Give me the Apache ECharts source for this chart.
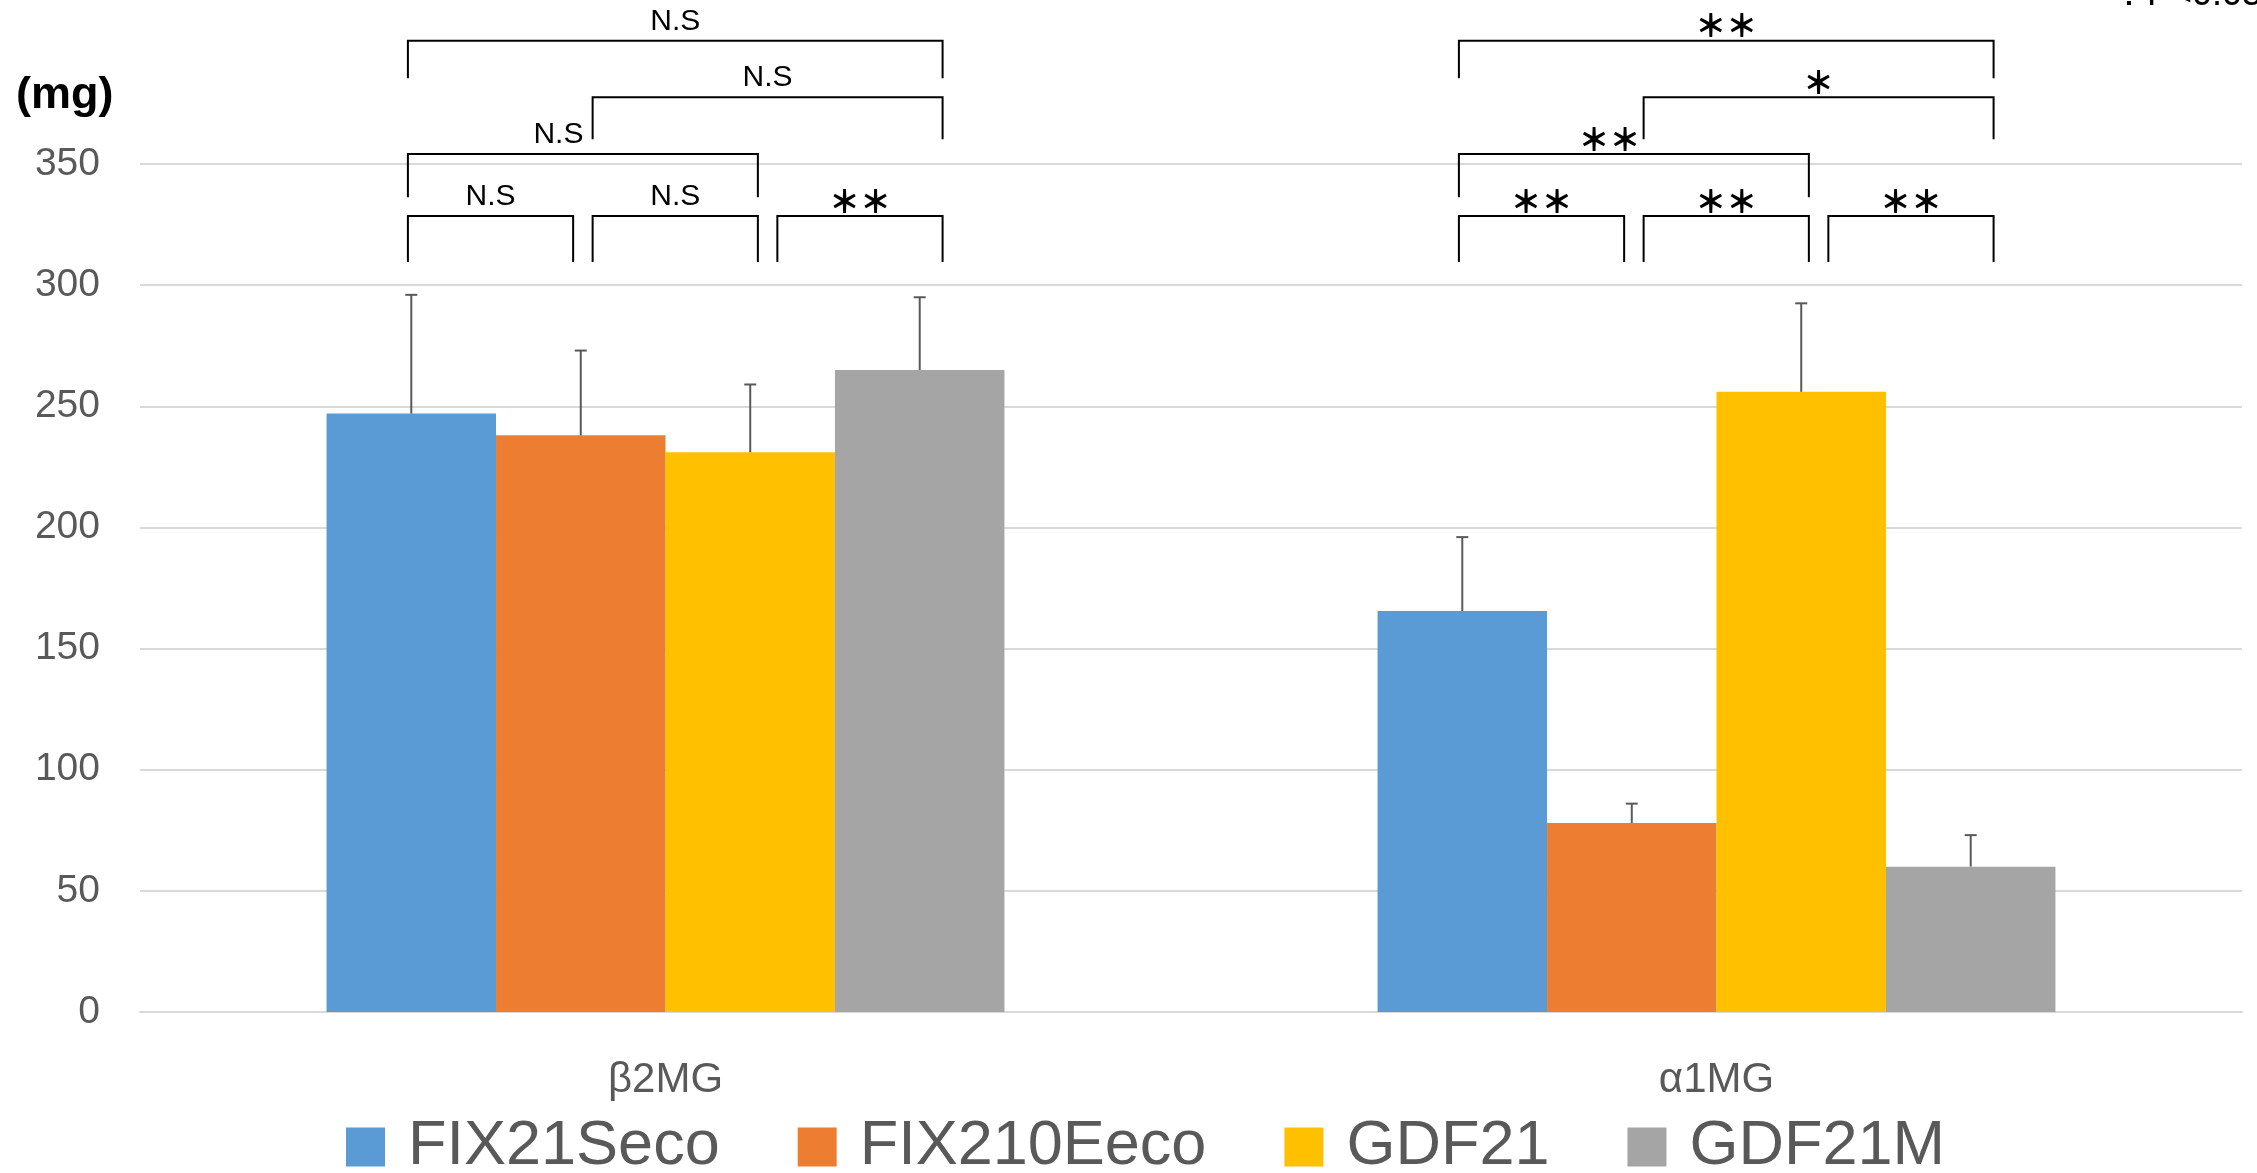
<!DOCTYPE html>
<html>
<head>
<meta charset="utf-8">
<script src="https://cdn.jsdelivr.net/npm/echarts@6/dist/echarts.min.js"></script>
<style>
html,body{margin:0;padding:0;background:#fff;}
#chart{width:2257px;height:1173px;}
</style>
</head>
<body>
<div id="chart"></div>
<script>
// ---- data ----
const categories = ['β2MG', 'α1MG'];
const seriesNames = ['FIX21Seco', 'FIX210Eeco', 'GDF21', 'GDF21M'];
const fix21seco = [247, 165.5];
const fix210eeco = [238, 78];
const gdf21 = [231, 256];
const gdf21m = [265, 60];
const errFix21seco = [49, 30.5];
const errFix210eeco = [35, 8];
const errGdf21 = [28, 36.5];
const errGdf21m = [30, 13];
const yMin = 0, yMax = 350, yStep = 50;
// significance brackets: [category, fromBar, toBar, tier, label]
const brackets = [
  [0, 0, 1, 0, 'N.S'], [0, 1, 2, 0, 'N.S'], [0, 2, 3, 0, '＊＊'],
  [0, 0, 2, 1, 'N.S'], [0, 1, 3, 2, 'N.S'], [0, 0, 3, 3, 'N.S'],
  [1, 0, 1, 0, '＊＊'], [1, 1, 2, 0, '＊＊'], [1, 2, 3, 0, '＊＊'],
  [1, 0, 2, 1, '＊＊'], [1, 1, 3, 2, '＊'], [1, 0, 3, 3, '＊＊']
];
const tierLine = [328.5, 354.1, 377.6, 400.9];
const tierLeg = [309.6, 336.3, 360.2, 385.4];

const means = [fix21seco, fix210eeco, gdf21, gdf21m];
const errs = [errFix21seco, errFix210eeco, errGdf21, errGdf21m];
const colors = ['#5B9BD5', '#ED7D31', '#FFC000', '#A5A5A5'];
const CAT_GAP = 0.355;

const errData = [];
means.forEach((arr, s) => arr.forEach((v, c) => errData.push([c, v + errs[s][c], s, v])));

function barW(api) {
  return api.size([1, 0])[0] * (1 - CAT_GAP) / 4;
}

function renderErr(params, api) {
  const c = api.value(0), top = api.value(1), s = api.value(2), base = api.value(3);
  const bw = barW(api);
  const p0 = api.coord([c, base]);
  const p1 = api.coord([c, top]);
  const x = p0[0] + (s - 1.5) * bw;
  const st = {stroke: '#595959', lineWidth: 2};
  return {
    type: 'group',
    children: [
      {type: 'line', shape: {x1: x, y1: p0[1], x2: x, y2: p1[1]}, style: st},
      {type: 'line', shape: {x1: x - 6, y1: p1[1], x2: x + 6, y2: p1[1]}, style: st}
    ]
  };
}

function renderBracket(params, api) {
  const b = brackets[params.dataIndex];
  const c = api.coord([b[0], 0]);
  const bw = barW(api);
  const xl = c[0] + (-1.52 + 1.09 * b[1]) * bw;
  const xr = c[0] + (-1.52 + 1.09 * b[2] - 0.115) * bw;
  const yLine = api.coord([b[0], tierLine[b[3]]])[1];
  const yLeg = api.coord([b[0], tierLeg[b[3]]])[1];
  const frac = b[3] === 1 ? 0.43 : 0.5;
  const isStar = b[4].indexOf('＊') >= 0;
  return {
    type: 'group',
    children: [
      {type: 'polyline', shape: {points: [[xl, yLeg], [xl, yLine], [xr, yLine], [xr, yLeg]]},
        style: {stroke: '#000', lineWidth: 2, fill: null}},
      {type: 'text', style: {
        text: b[4], x: xl + (xr - xl) * frac, y: yLine - (isStar ? 15 : 19),
        align: 'center', verticalAlign: 'middle',
        fontFamily: isStar ? 'Noto Sans CJK JP' : 'Liberation Sans',
        fontSize: isStar ? 31 : 30, fontWeight: isStar ? 900 : 'normal', fill: '#000'
      }}
    ]
  };
}

const chart = echarts.init(document.getElementById('chart'));
const series = seriesNames.map((n, i) => ({
  name: n, type: 'bar', data: means[i], barGap: '0%', barCategoryGap: (CAT_GAP * 100) + '%',
  itemStyle: {color: colors[i]}, z: 2
}));
series.push({
  type: 'custom', renderItem: renderErr, data: errData, z: 3, silent: true,
  encode: {x: 0, y: 1}
});
series.push({
  type: 'custom', renderItem: renderBracket, data: brackets.map(b => [b[0], 0]), z: 4, silent: true,
  clip: false, encode: {x: 0, y: 1}
});

chart.setOption({
  animation: false,
  color: colors,
  grid: {left: 140, right: 15, top: 164, bottom: 161},
  xAxis: {
    type: 'category', data: categories,
    axisLine: {lineStyle: {color: '#D9D9D9', width: 2}},
    axisTick: {show: false},
    axisLabel: {color: '#595959', fontSize: 42, fontFamily: 'Liberation Sans', margin: 47}
  },
  yAxis: {
    type: 'value', min: yMin, max: yMax, interval: yStep,
    axisLine: {show: false}, axisTick: {show: false},
    splitLine: {lineStyle: {color: '#D9D9D9', width: 2}},
    axisLabel: {color: '#595959', fontSize: 39, fontFamily: 'Liberation Sans', margin: 40}
  },
  legend: {
    data: seriesNames, left: 341, top: 1110, icon: 'rect',
    itemWidth: 39, itemHeight: 39, itemGap: 78,
    textStyle: {color: '#595959', fontSize: 63, fontFamily: 'Liberation Sans', padding: [0, 0, 0, 18], lineHeight: 64}
  },
  graphic: [
    {type: 'text', left: 16, top: 73, style: {text: '(mg)', fontSize: 45, fontWeight: 'bold', fontFamily: 'Liberation Sans', fill: '#000'}},
    {type: 'text', x: 2262, y: 13, style: {text: '＊：P<0.05', align: 'right', verticalAlign: 'bottom', fontSize: 36, fontFamily: 'Liberation Sans', fill: '#000'}}
  ],
  series: series
});
</script>
</body>
</html>
